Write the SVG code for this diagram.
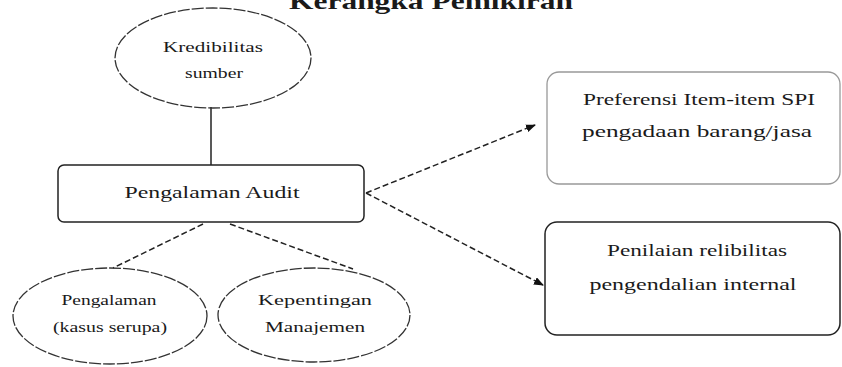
<svg xmlns="http://www.w3.org/2000/svg" width="842" height="367" viewBox="0 0 842 367">
<style>
text{font-family:"Liberation Serif","Times New Roman",serif;fill:#1a1a1a;text-anchor:middle}
.t{font-size:15px}
.b{font-size:17px}
.ell{fill:none;stroke:#333;stroke-width:1.3;stroke-dasharray:12 2}
.box{fill:#fff;stroke:#222;stroke-width:1.5}
.con{fill:none;stroke:#222;stroke-width:1.5;stroke-dasharray:6 3}
</style>
<defs>
<marker id="ah" markerWidth="10" markerHeight="8" refX="9" refY="4" orient="auto" markerUnits="userSpaceOnUse">
<path d="M0,0 L10,4 L0,8 Z" fill="#111"/>
</marker>
</defs>
<rect width="842" height="367" fill="#fff"/>
<text x="431" y="9" style="font-size:24px;font-weight:bold" textLength="284" lengthAdjust="spacingAndGlyphs">Kerangka Pemikiran</text>
<g id="connectors">
<line x1="211" y1="107" x2="211" y2="165" stroke="#222" stroke-width="1.5"/>
<line class="con" x1="203" y1="224" x2="113" y2="268"/>
<line class="con" x1="230" y1="224" x2="353" y2="269"/>
<line class="con" x1="366" y1="193" x2="535" y2="125" marker-end="url(#ah)"/>
<line class="con" x1="366" y1="193" x2="543" y2="285" marker-end="url(#ah)"/>
</g>
<g id="kredibilitas">
<ellipse class="ell" cx="213" cy="58" rx="98" ry="50"/>
<text class="t" x="213" y="52" textLength="100" lengthAdjust="spacingAndGlyphs">Kredibilitas</text>
<text class="t" x="214" y="78" textLength="58" lengthAdjust="spacingAndGlyphs">sumber</text>
</g>
<g id="pengalaman-audit">
<rect class="box" x="58" y="165" width="306" height="57" rx="6"/>
<text class="b" x="212" y="198" textLength="175" lengthAdjust="spacingAndGlyphs">Pengalaman Audit</text>
</g>
<g id="pengalaman">
<ellipse class="ell" cx="110" cy="316" rx="97" ry="48"/>
<text class="t" x="109" y="305" textLength="95" lengthAdjust="spacingAndGlyphs">Pengalaman</text>
<text class="t" x="110" y="332" textLength="114" lengthAdjust="spacingAndGlyphs">(kasus serupa)</text>
</g>
<g id="kepentingan">
<ellipse class="ell" cx="314" cy="315" rx="96" ry="47"/>
<text class="t" x="315" y="305" textLength="114" lengthAdjust="spacingAndGlyphs">Kepentingan</text>
<text class="t" x="315" y="332" textLength="100" lengthAdjust="spacingAndGlyphs">Manajemen</text>
</g>
<g id="preferensi">
<rect x="547" y="72" width="293" height="112" rx="12" fill="#fff" stroke="#999" stroke-width="1.3"/>
<text class="b" x="699" y="105" textLength="232" lengthAdjust="spacingAndGlyphs">Preferensi Item-item SPI</text>
<text class="b" x="697" y="137" textLength="230" lengthAdjust="spacingAndGlyphs">pengadaan barang/jasa</text>
</g>
<g id="penilaian">
<rect class="box" x="545" y="222" width="295" height="113" rx="12"/>
<text class="b" x="697" y="256" textLength="180" lengthAdjust="spacingAndGlyphs">Penilaian relibilitas</text>
<text class="b" x="693" y="290" textLength="207" lengthAdjust="spacingAndGlyphs">pengendalian internal</text>
</g>
</svg>
